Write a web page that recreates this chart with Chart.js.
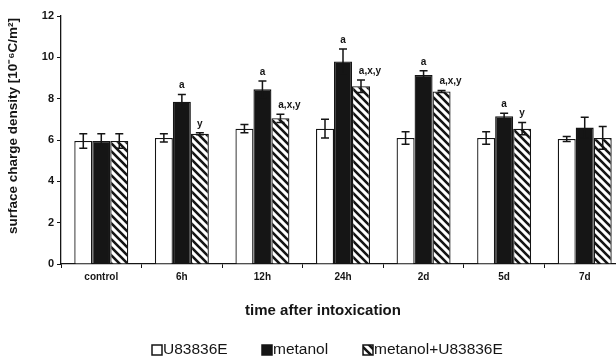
<!DOCTYPE html>
<html>
<head>
<meta charset="utf-8">
<script src="https://cdn.jsdelivr.net/npm/chart.js@4.4.1/dist/chart.umd.min.js"></script>
<style>
  html, body { margin: 0; padding: 0; background: #fff; overflow: hidden; }
  #wrap { width: 616px; height: 356px; overflow: hidden; }
</style>
</head>
<body>
<div id="wrap"><canvas id="chart" width="626" height="356"></canvas></div>
<script>
const categories = ['control', '6h', '12h', '24h', '2d', '5d', '7d'];

const u83836e = [5.95, 6.1, 6.55, 6.55, 6.1, 6.1, 6.05];
const u83836eErr = [0.35, 0.2, 0.2, 0.45, 0.3, 0.3, 0.12];

const metanol = [5.95, 7.85, 8.45, 9.8, 9.15, 7.15, 6.6];
const metanolErr = [0.35, 0.35, 0.4, 0.6, 0.2, 0.15, 0.5];

const combo = [5.95, 6.3, 7.05, 8.6, 8.35, 6.55, 6.1];
const comboErr = [0.35, 0.05, 0.2, 0.3, 0.05, 0.3, 0.55];

const metanolMarks = ['', 'a', 'a', 'a', 'a', 'a', ''];
const comboMarks = ['', 'y', 'a,x,y', 'a,x,y', 'a,x,y', 'y', ''];

const yTicks = [0, 2, 4, 6, 8, 10, 12];

const INK = '#151515';
const FONT = '"Liberation Sans", Arial, sans-serif';

// diagonal hatch for metanol+U83836E
function hatch() {
    const c = document.createElement('canvas');
    c.width = 8; c.height = 8;
    const g = c.getContext('2d');
    g.fillStyle = '#fff';
    g.fillRect(0, 0, 8, 8);
    g.strokeStyle = INK;
    g.lineWidth = 2.6;
    g.beginPath();
    g.moveTo(-2, -2); g.lineTo(10, 10);
    g.moveTo(-2, 6); g.lineTo(2, 10);
    g.moveTo(6, -2); g.lineTo(10, 2);
    g.stroke();
    return g.createPattern(c, 'repeat');
}
const hatchFill = hatch();

const errors = [u83836eErr, metanolErr, comboErr];
const marks = [null, metanolMarks, comboMarks];

const extras = {
    id: 'extras',
    afterDatasetsDraw(chart) {
        const ctx = chart.ctx;
        const y = chart.scales.y;
        ctx.save();
        ctx.strokeStyle = INK;
        ctx.lineWidth = 1.5;
        chart.data.datasets.forEach((ds, di) => {
            const meta = chart.getDatasetMeta(di);
            meta.data.forEach((bar, i) => {
                const v = ds.data[i], e = errors[di][i];
                const top = y.getPixelForValue(v + e);
                const bot = y.getPixelForValue(v - e);
                ctx.beginPath();
                ctx.moveTo(bar.x, top); ctx.lineTo(bar.x, bot);
                ctx.moveTo(bar.x - 4, top); ctx.lineTo(bar.x + 4, top);
                ctx.moveTo(bar.x - 4, bot); ctx.lineTo(bar.x + 4, bot);
                ctx.stroke();
                if (marks[di] && marks[di][i]) {
                    ctx.fillStyle = INK;
                    ctx.font = 'bold 10px ' + FONT;
                    ctx.textAlign = 'center';
                    ctx.textBaseline = 'bottom';
                    const dx = marks[di][i].length > 1 ? 9 : 0;
                    ctx.fillText(marks[di][i], bar.x + dx, top - 4);
                }
            });
        });
        ctx.restore();
    },
    afterDraw(chart) {
        const ctx = chart.ctx;
        ctx.save();
        ctx.fillStyle = INK;
        // y title
        ctx.font = 'bold 13.5px ' + FONT;
        ctx.textAlign = 'center';
        ctx.textBaseline = 'middle';
        ctx.translate(13, 126);
        ctx.rotate(-Math.PI / 2);
        ctx.fillText('surface charge density [10\u207B\u2076C/m\u00B2]', 0, 0);
        ctx.restore();

        ctx.save();
        ctx.fillStyle = INK;
        ctx.font = 'bold 15px ' + FONT;
        ctx.textAlign = 'center';
        ctx.textBaseline = 'middle';
        ctx.fillText('time after intoxication', 323, 311);

        // legend
        ctx.font = '15.5px ' + FONT;
        ctx.textAlign = 'left';
        const items = [
            { x: 152, label: 'U83836E', fill: '#fff' },
            { x: 262, label: 'metanol', fill: INK },
            { x: 363, label: 'metanol+U83836E', fill: hatchFill }
        ];
        items.forEach(it => {
            ctx.fillStyle = it.fill;
            ctx.fillRect(it.x, 345, 10, 10);
            ctx.strokeStyle = INK;
            ctx.lineWidth = 1.5;
            ctx.strokeRect(it.x, 345, 10, 10);
            ctx.fillStyle = INK;
            ctx.fillText(it.label, it.x + 11, 350);
        });
        ctx.restore();
    }
};

new Chart(document.getElementById('chart'), {
    type: 'bar',
    data: {
        labels: categories,
        datasets: [
            { label: 'U83836E', data: u83836e, backgroundColor: '#fff', borderColor: INK, borderWidth: 1.3 },
            { label: 'metanol', data: metanol, backgroundColor: INK, borderColor: INK, borderWidth: 1.3 },
            { label: 'metanol+U83836E', data: combo, backgroundColor: hatchFill, borderColor: INK, borderWidth: 1.3 }
        ]
    },
    options: {
        responsive: false,
        animation: false,
        devicePixelRatio: 1,
        layout: { padding: { top: 16, right: 1, left: 0, bottom: 0 } },
        datasets: { bar: { categoryPercentage: 0.67, barPercentage: 1.0 } },
        plugins: { legend: { display: false }, tooltip: { enabled: false } },
        scales: {
            x: {
                grid: { display: true, drawOnChartArea: false, drawTicks: true, tickLength: 4, color: INK, offset: true },
                border: { color: INK, width: 1.3 },
                ticks: { color: INK, font: { family: FONT, size: 10, weight: 'bold' }, padding: 3, maxRotation: 0 },
                afterFit(s) { s.height = 92; }
            },
            y: {
                min: 0, max: 12,
                afterBuildTicks(s) { s.ticks = yTicks.map(v => ({ value: v })); },
                grid: { display: true, drawOnChartArea: false, drawTicks: true, tickLength: 4, color: INK },
                border: { color: INK, width: 1.3 },
                ticks: { color: INK, font: { family: FONT, size: 11, weight: 'bold' }, padding: 3 },
                afterFit(s) { s.width = 61; }
            }
        }
    },
    plugins: [extras]
});
</script>
</body>
</html>
